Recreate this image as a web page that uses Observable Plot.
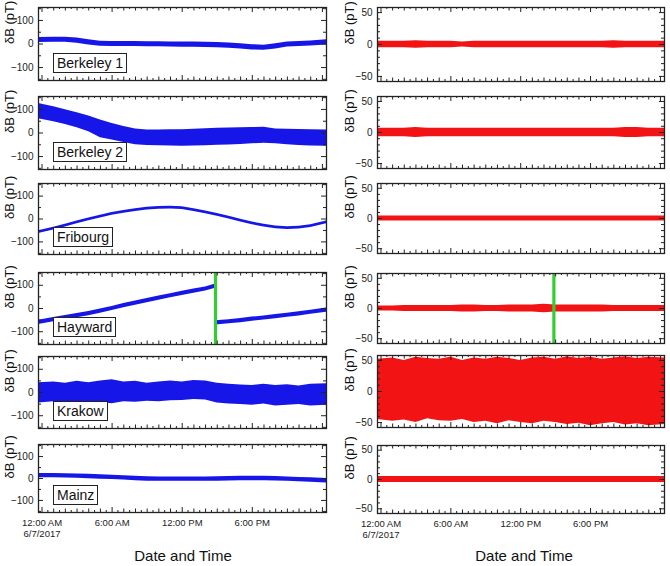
<!DOCTYPE html>
<html>
<head>
<meta charset="utf-8">
<script src="https://cdn.jsdelivr.net/npm/d3@7"></script>
<script src="https://cdn.jsdelivr.net/npm/@observablehq/plot@0.6"></script>
<style>
  html, body { margin: 0; padding: 0; background: #fff; }
  #chart { position: relative; width: 670px; height: 566px; font-family: "Liberation Sans", Arial, sans-serif; color: #222; }
  #chart svg { position: absolute; overflow: visible; }
  .station { position: absolute; border: 1.4px solid #222; padding: 0 3px; font-size: 14px; line-height: 18px; background: #fff; color: #111; white-space: nowrap; }
  .xtitle { position: absolute; font-size: 15px; transform: translateX(-50%); white-space: nowrap; color: #111; }
</style>
</head>
<body>
<div id="chart"></div>
<script>
// Sample times, hours after 12:00 AM on 6/7/2017
const hours = [-0.3, 1, 2, 3, 4, 5, 6, 7, 8, 9, 10, 11, 12, 13, 14, 15, 16, 17, 18, 19, 20, 21, 22, 23, 24.35];
const stations = ["Berkeley 1", "Berkeley 2", "Fribourg", "Hayward", "Krakow", "Mainz"];
const xTickHours = [0, 6, 12, 18];
const xTickLabels = ["12:00 AM\n6/7/2017", "6:00 AM", "12:00 PM", "6:00 PM"];
const eventHour = 14.85;

// Raw magnetometer signals (pT): band centre and half-width, or lower/upper envelope
const berkeley1Mid = [17, 18, 18, 14, 7, 1, 0, 0, 0, -1, -1, -2, -3, -3, -4, -5, -7, -10, -14, -16, -10, -2, 0, 2, 7];
const berkeley1Spread = 11;
const berkeley2Hi = [125, 112, 99, 86, 72, 55, 40, 28, 17, 13, 13, 14, 14, 16, 18, 20, 21, 22, 23, 24, 17, 16, 15, 14, 13];
const berkeley2Lo = [60, 48, 36, 22, 5, -20, -30, -40, -50, -53, -54, -55, -56, -55, -54, -52, -51, -49, -46, -43, -46, -50, -53, -55, -56];
const fribourgMid = [-57, -42, -29, -15, -2, 10, 22, 31, 39, 45, 49, 50, 47, 39, 29, 18, 6, -7, -19, -29, -37, -40, -38, -31, -15];
const fribourgSpread = 6;
const haywardHoursA = [-0.3, 1, 2, 3, 4, 5, 6, 7, 8, 9, 10, 11, 12, 13, 14, 14.85];
const haywardMidA = [-60, -48, -39, -31, -22, -11, 0, 12, 23, 34, 45, 55, 65, 75, 84, 96];
const haywardHoursB = [14.85, 16, 17, 18, 19, 20, 21, 22, 23, 24.35];
const haywardMidB = [-62, -57, -52, -46, -41, -35, -29, -23, -16, -7];
const haywardSpread = 9;
const krakowHi = [42, 45, 40, 48, 42, 50, 55, 45, 48, 40, 45, 50, 45, 52, 50, 40, 35, 32, 30, 35, 30, 33, 28, 35, 38];
const krakowLo = [-45, -40, -44, -40, -46, -42, -48, -40, -42, -38, -40, -35, -34, -30, -32, -45, -50, -52, -55, -50, -58, -55, -52, -58, -55];
const mainzMid = [13, 13, 12, 11, 9, 7, 5, 3, 0, -2, -3, -3, -3, -3, -3, -2, -1, 0, 0, 0, -1, -3, -5, -7, -10];
const mainzSpread = 10;

// Filtered signals (pT): noise half-amplitude, or upper/lower envelope
const berkeley1Amp = [5, 5, 5, 6, 5, 5, 5, 4, 5, 5, 5, 5, 5, 5, 5, 5, 5, 5, 5, 5, 6, 5, 5, 5, 5];
const berkeley2Amp = [7, 7, 7, 8, 7, 7, 7, 7, 7, 7, 7, 7, 7, 7, 7, 7, 7, 7, 7, 7, 7, 8, 8, 7, 7];
const fribourgAmp = [4, 4, 4, 4, 4, 4, 4, 4, 4, 4, 4, 4, 4, 4, 4, 4, 4, 4, 4, 4, 4, 4, 4, 4, 4];
const haywardAmp = [4, 4, 5, 5, 5, 5, 5, 6, 6, 5, 5, 6, 6, 6, 7, 6, 6, 6, 6, 6, 5, 5, 5, 5, 5];
const krakowHiR = [52, 54, 50, 55, 53, 52, 55, 50, 54, 52, 55, 53, 50, 54, 55, 52, 56, 53, 55, 52, 54, 56, 53, 55, 54];
const krakowLoR = [-45, -48, -46, -50, -44, -47, -48, -45, -50, -48, -52, -47, -50, -52, -48, -50, -53, -51, -55, -52, -50, -54, -52, -55, -53];
const mainzAmp = [5, 5, 5, 5, 5, 5, 5, 5, 5, 5, 5, 5, 5, 5, 5, 5, 5, 5, 5, 5, 5, 5, 5, 5, 5];

const blue = "#1616e8", red = "#f21414", green = "#33cc33", ink = "#222";

// Row builders for the band marks
const fromMid = (ts, mid, s, seg = 0) => ts.map((t, i) => ({t, lo: mid[i] - s, hi: mid[i] + s, seg}));
const fromEnv = (ts, lo, hi) => ts.map((t, i) => ({t, lo: lo[i], hi: hi[i], seg: 0}));
const fromAmp = (ts, amp) => ts.map((t, i) => ({t, lo: -amp[i], hi: amp[i], seg: 0}));

const leftRows = [
  fromMid(hours, berkeley1Mid, berkeley1Spread),
  fromEnv(hours, berkeley2Lo, berkeley2Hi),
  fromMid(hours, fribourgMid, fribourgSpread),
  [...fromMid(haywardHoursA, haywardMidA, haywardSpread, 0), ...fromMid(haywardHoursB, haywardMidB, haywardSpread, 1)],
  fromEnv(hours, krakowLo, krakowHi),
  fromMid(hours, mainzMid, mainzSpread)
];
const rightRows = [
  fromAmp(hours, berkeley1Amp),
  fromAmp(hours, berkeley2Amp),
  fromAmp(hours, fribourgAmp),
  fromAmp(hours, haywardAmp),
  fromEnv(hours, krakowLoR, krakowHiR),
  fromAmp(hours, mainzAmp)
];

const leftTops = [7, 96, 183, 272, 356, 444], leftHeights = [73, 73, 71, 72, 72, 68];
const rightTops = [7, 96, 183, 273, 355, 445], rightHeights = [74, 72, 70, 70, 72, 68];

const chart = document.getElementById("chart");
const xDomain = [-0.3, 24.35];
const halfHours = d3.range(0, 24.01, 0.5);

function panel({left, width, mL, mR, top, h, yDomain, yMajor, yMinor, rows, color, bottom, event, labelDx}) {
  const mT = 4, mB = bottom ? 36 : 4;
  const innerW = width - mL - mR;
  const xt = (vals, len) => [
    Plot.tickX(vals, {x: d => d, insetTop: h - len, stroke: ink}),
    Plot.tickX(vals, {x: d => d, insetBottom: h - len, stroke: ink})
  ];
  const yt = (vals, len) => [
    Plot.tickY(vals, {y: d => d, insetRight: innerW - len, stroke: ink}),
    Plot.tickY(vals, {y: d => d, insetLeft: innerW - len, stroke: ink})
  ];
  const marks = [
    Plot.areaY(rows, {x: "t", y1: "lo", y2: "hi", z: "seg", fill: color, curve: "linear"}),
    event != null ? Plot.ruleX([event], {stroke: green, strokeWidth: 3.2}) : null,
    ...xt(halfHours.filter(t => t % 6 === 0), 5),
    ...xt(halfHours.filter(t => t % 6 !== 0 && t % 1 === 0), 3.5),
    ...xt(halfHours.filter(t => t % 1 !== 0), 2),
    ...yt(yMajor, 5),
    ...yt(yMinor, 3),
    Plot.frame({stroke: ink, strokeWidth: 1.3}),
    Plot.axisY(yMajor, {tickSize: 0, tickPadding: 5, fontSize: 10, label: null}),
    Plot.text(["δB (pT)"], {text: d => d, frameAnchor: "left", dx: labelDx, rotate: -90, fontSize: 13, fill: "#111"})
  ];
  if (bottom) {
    marks.push(Plot.axisX(xTickHours, {tickSize: 0, tickPadding: 6, fontSize: 9.5, lineHeight: 1.15,
      tickFormat: d => xTickLabels[xTickHours.indexOf(d)], label: null}));
  }
  const svg = Plot.plot({
    width, height: h + mT + mB,
    marginLeft: mL, marginRight: mR, marginTop: mT, marginBottom: mB,
    x: {domain: xDomain, ...(bottom ? {} : {axis: null})},
    y: {domain: yDomain},
    style: {fontFamily: '"Liberation Sans", Arial, sans-serif', color: "#222", background: "transparent", overflow: "visible"},
    marks
  });
  svg.style.left = left + "px";
  svg.style.top = (top - mT) + "px";
  chart.appendChild(svg);
}

stations.forEach((name, i) => {
  const last = i === stations.length - 1;
  panel({left: 0, width: 335, mL: 38, mR: 9, top: leftTops[i], h: leftHeights[i],
    yDomain: [-155, 155], yMajor: [-100, 0, 100], yMinor: [-150, -50, 50, 150],
    rows: leftRows[i], color: blue, bottom: last, event: name === "Hayward" ? eventHour : null, labelDx: -29});
  panel({left: 335, width: 335, mL: 42, mR: 6, top: rightTops[i], h: rightHeights[i],
    yDomain: [-58, 58], yMajor: [-50, 0, 50], yMinor: d3.range(-50, 51, 10).filter(v => v % 50 !== 0),
    rows: rightRows[i], color: red, bottom: last, event: name === "Hayward" ? eventHour : null, labelDx: -28});

  const box = document.createElement("div");
  box.className = "station";
  box.textContent = name;
  box.style.left = "53px";
  box.style.top = (leftTops[i] + leftHeights[i] - 27) + "px";
  chart.appendChild(box);
});

[[183, "Date and Time"], [524, "Date and Time"]].forEach(([x, t]) => {
  const d = document.createElement("div");
  d.className = "xtitle";
  d.textContent = t;
  d.style.left = x + "px";
  d.style.top = "547px";
  chart.appendChild(d);
});
</script>
</body>
</html>
